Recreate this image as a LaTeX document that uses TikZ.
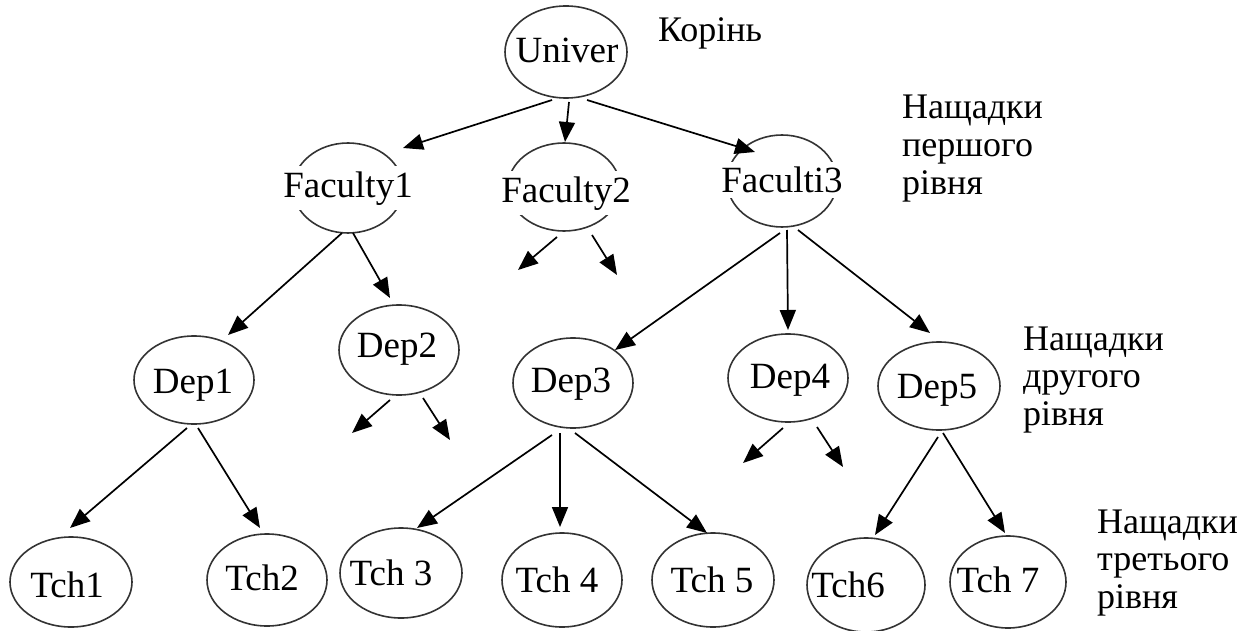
\documentclass[tikz,border=0pt]{standalone}
\usepackage{fontspec}
\setmainfont{Liberation Serif}
\usetikzlibrary{shapes.geometric,arrows.meta,calc}
\begin{document}
\begin{tikzpicture}[x=1pt,y=-1pt,
  oval/.style={ellipse,draw=black!80,line width=1.6pt,inner sep=0pt},
  txt/.style={font=\fontsize{37}{37.5}\selectfont,inner sep=0pt,anchor=base},
  ftxt/.style={txt,fill=white,inner xsep=1pt,inner ysep=5pt},
  lab/.style={font=\fontsize{36}{37.5}\selectfont,inner sep=0pt,anchor=base west,align=left},
  arr/.style={line width=1.7pt,-{Triangle[length=20pt,width=16pt]}}]
\useasboundingbox[fill=white] (0,0) rectangle (1260,631);

% ellipses
\node[oval,minimum width=122pt,minimum height=92pt] (u)  at (566,52) {};
\node[oval,minimum width=110pt,minimum height=90pt] (f1) at (348,188) {};
\node[oval,minimum width=112pt,minimum height=88pt] (f2) at (564,187) {};
\node[oval,minimum width=110pt,minimum height=92pt] (f3) at (782,181) {};
\node[oval,minimum width=120pt,minimum height=88pt] (d1) at (194,380) {};
\node[oval,minimum width=120pt,minimum height=90pt] (d2) at (399,350) {};
\node[oval,minimum width=120pt,minimum height=90pt] (d3) at (573,383) {};
\node[oval,minimum width=120pt,minimum height=88pt] (d4) at (788,378) {};
\node[oval,minimum width=122pt,minimum height=88pt] (d5) at (939,386) {};
\node[oval,minimum width=122pt,minimum height=90pt] (t1) at (71,582) {};
\node[oval,minimum width=120pt,minimum height=92pt] (t2) at (267,580) {};
\node[oval,minimum width=122pt,minimum height=90pt] (t3) at (401,573) {};
\node[oval,minimum width=120pt,minimum height=94pt] (t4) at (562,580) {};
\node[oval,minimum width=122pt,minimum height=94pt] (t5) at (713,580) {};
\node[oval,minimum width=118pt,minimum height=94pt] (t6) at (866,585) {};
\node[oval,minimum width=116pt,minimum height=92pt] (t7) at (1008,582) {};

% texts
\node[txt]  (tu)  at (567,63)  {Univer};
\node[ftxt] (tf1) at (348,197) {Faculty1};
\node[ftxt] (tf2) at (566,202) {Faculty2};
\node[ftxt] (tf3) at (782,193) {Faculti3};
\node[txt]  (td1) at (193,393) {Dep1};
\node[txt]  (td2) at (397,357) {Dep2};
\node[txt]  (td3) at (571,392) {Dep3};
\node[txt]  (td4) at (790,388) {Dep4};
\node[txt]  (td5) at (937,398) {Dep5};
\node[txt]  (tt1) at (67,597)  {Tch1};
\node[txt]  (tt2) at (262,590) {Tch2};
\node[txt]  (tt3) at (391,585) {Tch 3};
\node[txt]  (tt4) at (557,592) {Tch 4};
\node[txt]  (tt5) at (712,592) {Tch 5};
\node[txt]  (tt6) at (848,597) {Tch6};
\node[txt]  (tt7) at (998,592) {Tch 7};

% side labels (base anchor = last line)
\node[lab] (lroot) at (658,42)  {Корінь};
\node[lab] (l1)    at (902,194) {Нащадки\\першого\\рівня};
\node[lab] (l2)    at (1023,425) {Нащадки\\другого\\рівня};
\node[lab] (l3)    at (1097,608) {Нащадки\\третього\\рівня};

% free ends of stub arrows
\coordinate (s1) at (518,270);
\coordinate (s2) at (617,275);
\coordinate (s3) at (352,433);
\coordinate (s4) at (450,440);
\coordinate (s5) at (743,463);
\coordinate (s6) at (843,467);

% connectors
\draw[arr] ($(u)+(-14,48)$) -- ($(f1)+(55,-40)$);
\draw[arr] ($(u)+(3,50)$)   -- ($(f2)+(1,-45)$);
\draw[arr] ($(u)+(21,48)$)  -- ($(f3)+(-27,-29)$);

\draw[arr] ($(f1)+(-6,45)$) -- ($(d1)+(34,-45)$);
\draw[arr] ($(f1)+(5,45)$)  -- ($(d2)+(-9,-52)$);
\draw[arr] ($(f2)+(-7,50)$) -- (s1);
\draw[arr] ($(f2)+(28,48)$) -- (s2);
\draw[arr] ($(f3)+(-2,52)$) -- ($(d3)+(42,-33)$);
\draw[arr] ($(f3)+(5,49)$)  -- ($(d4)+(0,-48)$);
\draw[arr] ($(f3)+(16,49)$) -- ($(d5)+(-9,-53)$);

\draw[arr] ($(d1)+(-7,48)$) -- ($(t1)+(-1,-54)$);
\draw[arr] ($(d1)+(4,48)$)  -- ($(t2)+(-7,-52)$);
\draw[arr] ($(d2)+(-9,50)$) -- (s3);
\draw[arr] ($(d2)+(24,48)$) -- (s4);
\draw[arr] ($(d3)+(-21,52)$) -- ($(t3)+(16,-45)$);
\draw[arr] ($(d3)+(-13,50)$) -- ($(t4)+(-2,-53)$);
\draw[arr] ($(d3)+(2,50)$)   -- ($(t5)+(-6,-47)$);
\draw[arr] ($(d4)+(-5,50)$)  -- (s5);
\draw[arr] ($(d4)+(29,49)$)  -- (s6);
\draw[arr] ($(d5)+(-1,51)$)  -- ($(t6)+(9,-50)$);
\draw[arr] ($(d5)+(4,47)$)   -- ($(t7)+(-3,-49)$);
\end{tikzpicture}
\end{document}
